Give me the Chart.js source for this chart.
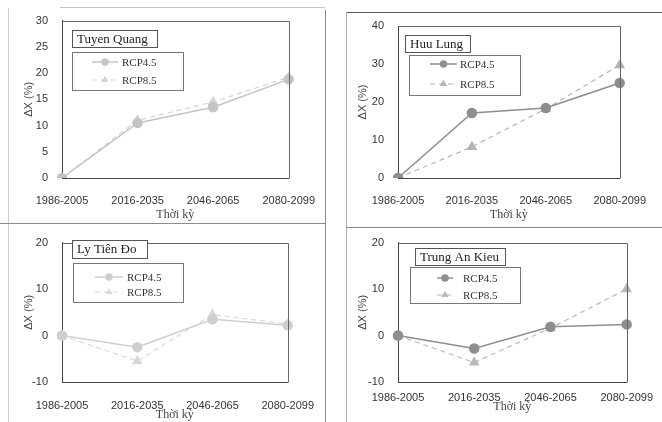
<!DOCTYPE html>
<html>
<head>
<meta charset="utf-8">
<script src="https://cdn.jsdelivr.net/npm/chart.js"></script>
<style>
  html, body { margin: 0; padding: 0; background: #fff; }
  #wrap { position: relative; width: 662px; height: 422px; overflow: hidden; background: #fff; }
  #wrap canvas { position: absolute; }
  .ln { position: absolute; background: #8c8c8c; }
</style>
</head>
<body>
<div id="wrap">
  <!-- panel frames -->
  <div class="ln" style="left:8px;top:8px;width:1px;height:414px;background:#d0d0d0"></div>
  <div class="ln" style="left:60px;top:7px;width:265px;height:1px;background:#c4c4c4"></div>
  <div class="ln" style="left:325px;top:10px;width:1px;height:412px"></div>
  <div class="ln" style="left:0;top:223px;width:326px;height:1px"></div>
  <div class="ln" style="left:346px;top:12px;width:316px;height:1px;background:#555"></div>
  <div class="ln" style="left:346px;top:12px;width:1px;height:410px;background:#b0b0b0"></div>
  <div class="ln" style="left:346px;top:227px;width:316px;height:1px"></div>

  <canvas id="c0" width="331" height="222" style="left:0;top:0;width:331px;height:222px"></canvas>
  <canvas id="c1" width="331" height="222" style="left:331px;top:0;width:331px;height:222px"></canvas>
  <canvas id="c2" width="331" height="200" style="left:0;top:222px;width:331px;height:200px"></canvas>
  <canvas id="c3" width="331" height="200" style="left:331px;top:222px;width:331px;height:200px"></canvas>
</div>

<script>
// data
const periods = ['1986-2005', '2016-2035', '2046-2065', '2080-2099'];
const stationNames = ['Tuyen Quang', 'Huu Lung', 'Ly Tiên Đo', 'Trung An Kieu'];
const seriesLabels = ['RCP4.5', 'RCP8.5'];

const rcp45TuyenQuang = [0, 10.5, 13.5, 18.8];
const rcp85TuyenQuang = [0, 11, 14.5, 19.2];
const rcp45HuuLung = [0, 17.1, 18.4, 25];
const rcp85HuuLung = [0, 8.2, 18.2, 29.7];
const rcp45LyTienDo = [0, -2.5, 3.5, 2.2];
const rcp85LyTienDo = [0, -5.5, 4.5, 2.5];
const rcp45TrungAnKieu = [0, -2.8, 1.9, 2.4];
const rcp85TrungAnKieu = [0, -5.8, 1.6, 10];

const yMin = [0, 0, -10, -10];
const yMax = [30, 40, 20, 20];
const yStep = [5, 10, 10, 10];

// draws plot frame, station box and legend box inside the plot
const panelBox = {
    id: 'panelBox',
    afterDatasetsDraw(chart, args, o) {
        const ctx = chart.ctx;
        const a = chart.chartArea;
        ctx.save();
        ctx.lineWidth = 1;
        ctx.strokeStyle = '#666';
        ctx.beginPath();
        ctx.moveTo(Math.round(a.left) + 0.5, Math.round(a.top) + 0.5);
        ctx.lineTo(Math.round(a.right) + 0.5, Math.round(a.top) + 0.5);
        ctx.lineTo(Math.round(a.right) + 0.5, Math.round(a.bottom) + 0.5);
        ctx.stroke();

        // station name box
        const t = o.titleBox;
        ctx.fillStyle = '#fff';
        ctx.fillRect(t[0], t[1], t[2], t[3]);
        ctx.strokeStyle = '#555';
        ctx.strokeRect(t[0] + 0.5, t[1] + 0.5, t[2], t[3]);
        ctx.fillStyle = '#222';
        ctx.font = '13px "Liberation Serif"';
        ctx.textBaseline = 'middle';
        ctx.textAlign = 'left';
        ctx.fillText(o.name, t[0] + 5, t[1] + t[3] / 2 + 1);

        // legend box
        const l = o.legendBox;
        ctx.fillStyle = '#fff';
        ctx.fillRect(l[0], l[1], l[2], l[3]);
        ctx.strokeStyle = '#777';
        ctx.strokeRect(l[0] + 0.5, l[1] + 0.5, l[2], l[3]);
        chart.data.datasets.forEach((ds, i) => {
            const y = o.rows[i];
            ctx.strokeStyle = ds.borderColor;
            ctx.lineWidth = ds.borderWidth;
            ctx.setLineDash(ds.borderDash || []);
            ctx.beginPath();
            ctx.moveTo(o.sample[0], y);
            ctx.lineTo(o.sample[1], y);
            ctx.stroke();
            ctx.setLineDash([]);
            ctx.fillStyle = ds.backgroundColor;
            ctx.strokeStyle = ds.borderColor;
            Chart.helpers.drawPoint(ctx, {
                pointStyle: ds.pointStyle, radius: 3, rotation: 0, borderWidth: 1
            }, (o.sample[0] + o.sample[1]) / 2, y);
            ctx.fillStyle = '#333';
            ctx.font = '11px "Liberation Serif"';
            ctx.fillText(ds.label, o.textX, y + 1);
        });
        ctx.restore();
    }
};

const panels = [
    { id: 'c0', a: rcp45TuyenQuang, b: rcp85TuyenQuang, left: 62, top: 20, right: 39, xH: 44, xPad: 16, xTitlePad: 0, yTitlePad: 22,
      c45: '#c4c4c4', c85: '#d4d4d4',
      titleBox: [72, 30, 85, 17], legendBox: [72, 52, 111, 38], rows: [62, 80], sample: [92, 118], textX: 122 },
    { id: 'c1', a: rcp45HuuLung, b: rcp85HuuLung, left: 67, top: 26, right: 35, xH: 44, xPad: 16, xTitlePad: 0, yTitlePad: 25,
      c45: '#8e8e8e', c85: '#b4b4b4',
      titleBox: [74, 35, 65, 17], legendBox: [78, 55, 111, 40], rows: [64, 84], sample: [99, 126], textX: 129 },
    { id: 'c2', a: rcp45LyTienDo, b: rcp85LyTienDo, left: 62, top: 12, right: 39, xH: 40, xPad: 17, xTitlePad: 0, yTitlePad: 22,
      c45: '#cfcfcf', c85: '#d9d9d9',
      titleBox: [72, 18, 75, 18], legendBox: [73, 41, 110, 39], rows: [55, 70], sample: [95, 123], textX: 127 },
    { id: 'c3', a: rcp45TrungAnKieu, b: rcp85TrungAnKieu, left: 67, top: 18, right: 35, xH: 40, xPad: 9, xTitlePad: 8, yTitlePad: 25,
      c45: '#8e8e8e', c85: '#b8b8b8',
      titleBox: [84, 26, 90, 17], legendBox: [79, 45, 110, 36], rows: [56, 73], sample: [106, 122], textX: 132 }
];

panels.forEach((p, i) => {
    new Chart(document.getElementById(p.id), {
        type: 'line',
        data: {
            labels: periods,
            datasets: [
                { label: seriesLabels[0], data: p.a, borderColor: p.c45, backgroundColor: p.c45,
                  borderWidth: 1.5, pointStyle: 'circle', pointRadius: 4.5, tension: 0 },
                { label: seriesLabels[1], data: p.b, borderColor: p.c85, backgroundColor: p.c85,
                  borderWidth: 1.2, borderDash: [5, 4], pointStyle: 'triangle', pointRadius: 5, tension: 0 }
            ]
        },
        options: {
            responsive: false,
            animation: false,
            devicePixelRatio: 1,
            layout: { padding: { top: p.top, right: p.right, left: 0, bottom: 0 } },
            plugins: {
                legend: { display: false },
                tooltip: { enabled: false },
                panelBox: { name: stationNames[i], titleBox: p.titleBox, legendBox: p.legendBox,
                            rows: p.rows, sample: p.sample, textX: p.textX }
            },
            scales: {
                x: {
                    offset: false,
                    grid: { display: false, drawTicks: false },
                    border: { color: '#444' },
                    ticks: { padding: p.xPad, color: '#333', maxRotation: 0, autoSkip: false,
                             font: { family: 'Liberation Sans', size: 11 } },
                    title: { display: true, text: 'Thời kỳ', color: '#444',
                             font: { family: 'Liberation Serif', size: 12 },
                             padding: { top: 0, bottom: p.xTitlePad } },
                    afterFit(s) { s.height = p.xH; }
                },
                y: {
                    min: yMin[i], max: yMax[i],
                    grid: { display: false, drawTicks: false },
                    border: { color: '#444' },
                    ticks: { stepSize: yStep[i], padding: 14, color: '#333',
                             font: { family: 'Liberation Sans', size: 11 } },
                    title: { display: true, text: 'ΔX (%)', color: '#444',
                             font: { family: 'Liberation Sans', size: 11 },
                             padding: { top: p.yTitlePad, bottom: 0 } },
                    afterFit(s) { s.width = p.left; }
                }
            }
        },
        plugins: [panelBox]
    });
});
</script>
</body>
</html>
